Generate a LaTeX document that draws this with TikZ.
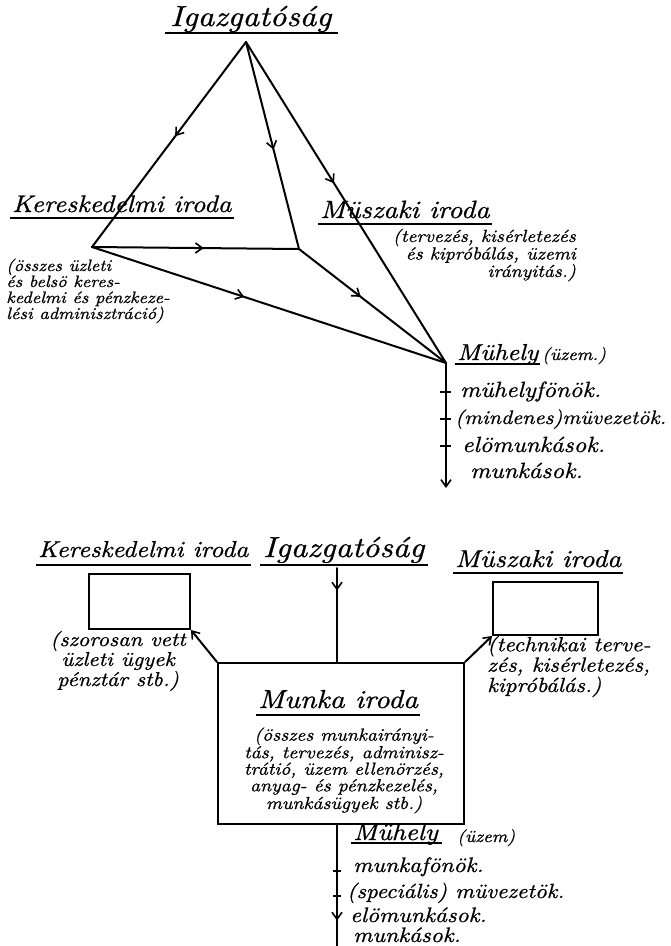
\documentclass[tikz,border=0pt]{standalone}
\usepackage{fontspec}
\newfontfamily\hand[FakeStretch=1.12, FakeBold=0.8]{lmroman10-italic.otf}
\usetikzlibrary{arrows.meta,decorations.markings,calc}
\tikzset{
  conn/.style={line width=2pt, line cap=round, line join=round},
  midarrow/.style={postaction={decorate}, decoration={markings,
     mark=at position #1 with {\arrow{Straight Barb[length=7pt,width=10pt,line width=1.6pt]}}}},
  endarrow/.style={-{Straight Barb[length=7pt,width=10pt,line width=1.6pt]}},
  title/.style={font={\hand\fontsize{#1}{#1}\selectfont}, inner sep=0pt},
  desc/.style 2 args={font={\hand\fontsize{#1}{#2}\selectfont}, inner sep=0pt},
  uline/.style={line width=1.2pt},
  tickmark/.style={line width=1.6pt},
  boxnode/.style={draw, line width=2pt, inner sep=0pt, anchor=north west}
}
\begin{document}
\begin{tikzpicture}[x=1pt,y=-1pt]
\fill[white] (0,0) rectangle (671,946);
\useasboundingbox (0,0) rectangle (671,946);

% ---------- upper diagram ----------
\coordinate (apex) at (246,42);
\coordinate (ker) at (92,247);
\coordinate (mid) at (299,249);
\coordinate (muh) at (446,363);
\coordinate (muhend) at (446,488);

\draw[conn, midarrow=0.46] (apex) -- (ker);
\draw[conn, midarrow=0.52] (apex) -- (mid);
\draw[conn, midarrow=0.44] (apex) -- (muh);
\draw[conn, midarrow=0.54] (ker) -- (mid);
\draw[conn, midarrow=0.43] (ker) -- (muh);
\draw[conn, midarrow=0.42] (mid) -- (muh);
\draw[conn, endarrow] (muh) -- (muhend);

\coordinate (tA1) at (446,392);
\coordinate (tA2) at (446,419);
\coordinate (tA3) at (446,446);
\foreach \t in {tA1,tA2,tA3}
  \draw[tickmark] ([xshift=-6pt]\t) -- ([xshift=5pt]\t);

\node[title=29, anchor=base west] (igA) at (170,26) {Igazgatóság};
\draw[uline] ($(igA.base west)+(-5,7)$) -- ($(igA.base east)+(6,7)$);

\node[title=24, anchor=base west] (kerA) at (12,212) {Kereskedelmi iroda};
\draw[uline] ($(kerA.base west)+(-2,6)$) -- ($(kerA.base east)+(2,6)$);

\node[title=25, anchor=base west] (musA) at (320,218) {Müszaki iroda};
\draw[uline] ($(musA.base west)+(-2,6)$) -- ($(musA.base east)+(2,6)$);

% multi-line nodes: base anchor = baseline of the last line
\node[desc={17.5}{13.5}, align=right, anchor=base east] (musAd) at (576,277)
  {(tervezés, kisérletezés\\és kipróbálás, üzemi\\irányitás.)};
\node[desc={16.5}{16}, align=left, anchor=base west] (kerAd) at (6,319)
  {(összes üzleti\\és belsö keres-\\kedelmi és pénzkeze-\\lési adminisztráció)};

\node[title=23, anchor=base west] (muhA) at (457,360) {Mühely};
\draw[uline] ($(muhA.base west)+(-2,4)$) -- ($(muhA.base east)+(2,4)$);
\node[desc={17}{17}, anchor=base west] (uzA) at (542,360) {(üzem.)};
\node[title=22, anchor=base west] (lA1) at (460,397) {mühelyfönök.};
\node[title=19.5, anchor=base west] (lA2) at (455,424) {(mindenes)müvezetök.};
\node[title=22, anchor=base west] (lA3) at (462,452) {elömunkások.};
\node[title=22, anchor=base west] (lA4) at (470,478) {munkások.};

% ---------- lower diagram ----------
\node[title=23, anchor=base west] (kerB) at (38,557) {Kereskedelmi iroda};
\draw[uline] ($(kerB.base west)+(-2,8)$) -- ($(kerB.base east)+(2,8)$);
\node[title=29, anchor=base west] (igB) at (263,557) {Igazgatóság};
\draw[uline] ($(igB.base west)+(-3,8)$) -- ($(igB.base east)+(3,8)$);
\node[title=24.5, anchor=base west] (musB) at (455,567) {Müszaki iroda};
\draw[uline] ($(musB.base west)+(-2,6)$) -- ($(musB.base east)+(2,6)$);

\node[boxnode, minimum width=101pt, minimum height=55pt] (kbox) at (88,573) {};
\node[boxnode, minimum width=105pt, minimum height=53pt] (mbox) at (492,581) {};
\node[boxnode, minimum width=246pt, minimum height=161pt] (munka) at (217,662) {};

\coordinate (igtop) at (337,568);
\coordinate (bottomend) at (337,946);
\draw[conn, midarrow=0.24] (igtop) -- (igtop |- munka.north);
\draw[conn, endarrow] (munka.north west) -- (kbox.south east);
\draw[conn, endarrow] (munka.north east) -- (mbox.south west);
\draw[conn, midarrow=0.79] (bottomend |- munka.south) -- (bottomend);

\coordinate (tB1) at (337,871);
\coordinate (tB2) at (337,896);
\foreach \t in {tB1,tB2}
  \draw[tickmark] ([xshift=-4pt]\t) -- ([xshift=4pt]\t);

\node[desc={20}{16}, align=center, anchor=base] (kerBd) at (118,686)
  {(szorosan vett\\üzleti ügyek\\pénztár stb.)};
\node[desc={20.5}{16}, align=left, anchor=base west] (musBd) at (487,692)
  {(technikai terve-\\zés, kisérletezés,\\kipróbálás.)};

\node[title=26, anchor=base west] (munkaT) at (258,708) {Munka iroda};
\draw[uline] ($(munkaT.base west)+(-2,7)$) -- ($(munkaT.base east)+(2,7)$);
\node[desc={17.5}{14}, align=center, anchor=base] (munkaD) at (344,809)
  {(összes munkairányi-\\tás, tervezés, adminisz-\\trátió, üzem ellenörzés,\\anyag- és pénzkezelés,\\munkásügyek stb.)};

\node[title=24, anchor=base west] (muhB) at (353,840) {Mühely};
\draw[uline] ($(muhB.base west)+(-2,3)$) -- ($(muhB.base east)+(4,3)$);
\node[desc={17}{17}, anchor=base west] (uzB) at (457,842) {(üzem)};
\node[title=21, anchor=base west] (lB1) at (353,872) {munkafönök.};
\node[title=20.5, anchor=base west] (lB2) at (347,898) {(speciális) müvezetök.};
\node[title=21, anchor=base west] (lB3) at (350,922) {elömunkások.};
\node[title=21, anchor=base west] (lB4) at (353,942) {munkások.};
\end{tikzpicture}
\end{document}
